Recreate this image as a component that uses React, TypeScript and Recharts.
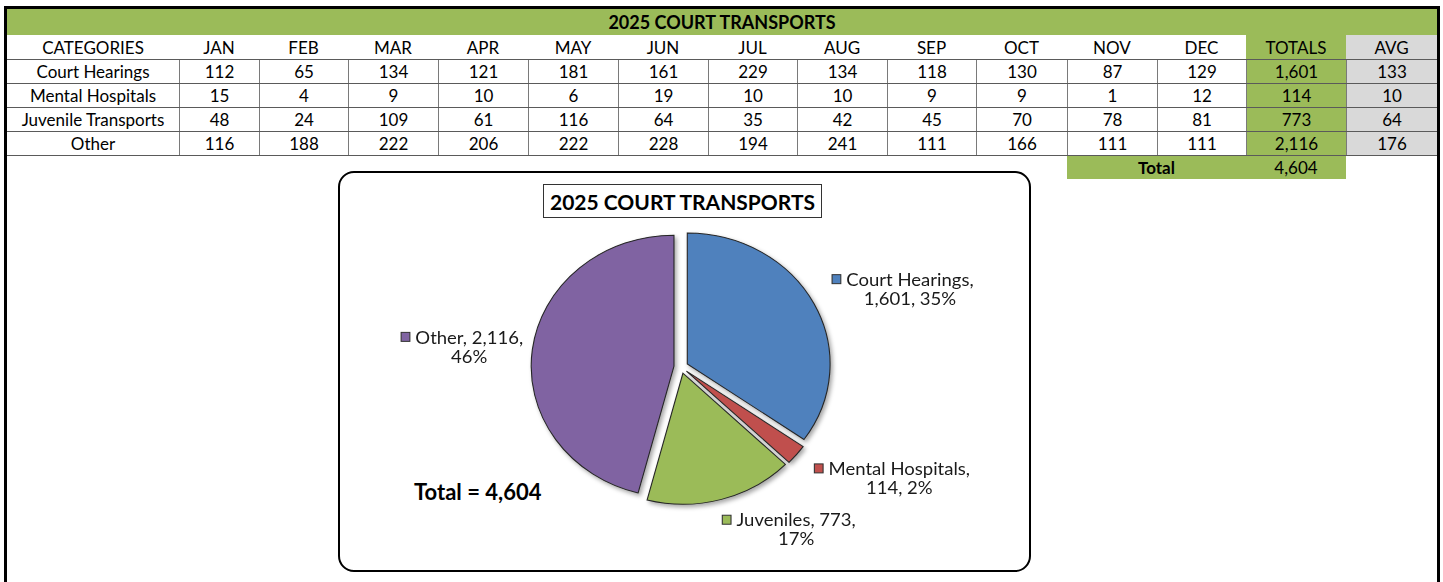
import React from 'react';
import { PieChart, Pie, Sector, Cell, Tooltip } from 'recharts';

// table data, read from the sheet
const months = ['JAN', 'FEB', 'MAR', 'APR', 'MAY', 'JUN', 'JUL', 'AUG', 'SEP', 'OCT', 'NOV', 'DEC'];
const categories = ['Court Hearings', 'Mental Hospitals', 'Juvenile Transports', 'Other'];
const courtHearings = [112, 65, 134, 121, 181, 161, 229, 134, 118, 130, 87, 129];
const mentalHospitals = [15, 4, 9, 10, 6, 19, 10, 10, 9, 9, 1, 12];
const juvenileTransports = [48, 24, 109, 61, 116, 64, 35, 42, 45, 70, 78, 81];
const other = [116, 188, 222, 206, 222, 228, 194, 241, 111, 166, 111, 111];
const totals = [1601, 114, 773, 2116];
const averages = [133, 10, 64, 176];
const grandTotal = 4604;

// pie slice names as shown in the chart labels
const pieNames = ['Court Hearings', 'Mental Hospitals', 'Juveniles', 'Other'];

const monthRows = [courtHearings, mentalHospitals, juvenileTransports, other];
const pieData = pieNames.map((name, i) => ({ name, value: totals[i] }));

const GREEN = '#9BBB59';
const GREY = '#D9D9D9';
const SLICE_COLORS = ['#4F81BD', '#C0504D', '#9BBB59', '#8064A2'];
const FONT = 'Lato, "Open Sans", sans-serif';

// column widths of the sheet (categories, 12 months, totals, avg)
const colWidths = [172, 80, 89, 90, 90, 90, 90, 89, 90, 89, 91, 90, 89, 100, 91];

const RAD = Math.PI / 180;
const EXPLODE = 6.5;
const LABEL_GAP = 24;
const LABEL_FONT = 17;
const LABEL_NUDGE: [number, number][] = [[1, -7], [3, 12], [-4, 13], [9, -1]];
const STRETCH = 1.09;

const fmt = (n: number) => n.toLocaleString('en-US');

let ctx: CanvasRenderingContext2D | null = null;
function textWidth(s: string) {
  if (!ctx) ctx = document.createElement('canvas').getContext('2d');
  if (!ctx) return s.length * 8;
  ctx.font = `${LABEL_FONT}px ${FONT}`;
  return ctx.measureText(s).width;
}

// greedy wrap over label parts (name, value, percent), excel-ish
function wrap(parts: string[], max: number) {
  const lines: string[] = [];
  let cur = '';
  parts.forEach((w) => {
    if (cur && (cur + ' ' + w).length > max) {
      lines.push(cur);
      cur = w;
    } else {
      cur = cur ? cur + ' ' + w : w;
    }
  });
  if (cur) lines.push(cur);
  return lines;
}

function ExplodedSector(props: any) {
  const { cx, cy, midAngle } = props;
  const dx = EXPLODE * Math.cos(-midAngle * RAD);
  const dy = EXPLODE * Math.sin(-midAngle * RAD);
  return <Sector {...props} cx={cx + dx} cy={cy + dy} filter="url(#sliceShadow)" />;
}

function renderLabel(p: any) {
  const i = p.index;
  const cos = Math.cos(-p.midAngle * RAD);
  const sin = Math.sin(-p.midAngle * RAD);
  const r = p.outerRadius + LABEL_GAP;
  const ax = p.cx + r * cos + LABEL_NUDGE[i][0];
  const ay = p.cy + r * sin + LABEL_NUDGE[i][1];
  const lines = wrap([`${pieNames[i]},`, `${fmt(p.value)},`, `${Math.round(p.percent * 100)}%`], 16);
  const w1 = textWidth(lines[0]);
  const sq = 8;
  const gap = 5;
  const blockW = sq + gap + w1;
  const left = cos >= 0 ? ax : ax - blockW;
  const tc = left + sq + gap + w1 / 2;
  const lh = 19;
  const top = ay - (lines.length * lh) / 2;
  return (
    <g key={`lbl-${i}`}>
      <rect x={left} y={top + lh / 2 - 4.5} width={sq} height={9} fill={SLICE_COLORS[i]} stroke="#333" strokeWidth={1} />
      {lines.map((ln, k) => (
        <text
          key={k}
          x={tc}
          y={top + lh * k + lh / 2}
          textAnchor="middle"
          dominantBaseline="central"
          fontFamily={FONT}
          fontSize={LABEL_FONT}
          fill="#1a1a1a"
        >
          {ln}
        </text>
      ))}
    </g>
  );
}

const cellBase: React.CSSProperties = {
  boxSizing: 'border-box',
  height: '100%',
  display: 'flex',
  alignItems: 'center',
  justifyContent: 'center',
  whiteSpace: 'nowrap',
};

function bgFor(col: number) {
  if (col === 13) return GREEN;
  if (col === 14) return GREY;
  return 'transparent';
}

export default function App() {
  const header = ['CATEGORIES', ...months, 'TOTALS', 'AVG'];
  return (
    <div
      style={{
        position: 'absolute',
        left: 0,
        top: 0,
        width: 1443,
        height: 582,
        background: '#fff',
        overflow: 'hidden',
        fontFamily: FONT,
        color: '#000',
      }}
    >
      <svg width={0} height={0} style={{ position: 'absolute' }}>
        <defs>
          <filter id="sliceShadow" x="-20%" y="-20%" width="140%" height="140%">
            <feDropShadow dx="2" dy="2.5" stdDeviation="2" floodColor="#000" floodOpacity="0.35" />
          </filter>
        </defs>
      </svg>

      {/* outer frame */}
      <div style={{ position: 'absolute', left: 4, top: 6, width: 1436, height: 640, border: '3px solid #000', boxSizing: 'border-box' }} />

      {/* title bar */}
      <div
        style={{
          position: 'absolute', left: 7, top: 9, width: 1430, height: 26, background: GREEN,
          display: 'flex', alignItems: 'center', justifyContent: 'center', fontWeight: 700, fontSize: 18,
        }}
      >
        2025 COURT TRANSPORTS
      </div>

      {/* header row */}
      <div style={{ position: 'absolute', left: 7, top: 35, height: 24, display: 'flex', fontSize: 17 }}>
        {header.map((h, c) => (
          <div key={h} style={{ ...cellBase, width: colWidths[c], background: bgFor(c) }}>{h}</div>
        ))}
      </div>

      {/* data rows */}
      {categories.map((cat, r) => {
        const cells = [cat, ...monthRows[r].map(fmt), fmt(totals[r]), fmt(averages[r])];
        return (
          <div
            key={cat}
            style={{
              position: 'absolute', left: 7, top: 59 + r * 24, height: 24, display: 'flex', fontSize: 17,
              borderTop: '1px solid #5a5a5a', boxSizing: 'border-box',
            }}
          >
            {cells.map((v, c) => (
              <div
                key={c}
                style={{
                  ...cellBase, width: colWidths[c], background: bgFor(c),
                  borderLeft: c > 0 ? '1px solid #7a7a7a' : 'none',
                }}
              >
                {v}
              </div>
            ))}
          </div>
        );
      })}
      <div style={{ position: 'absolute', left: 7, top: 155, width: 1430, height: 1, background: '#5a5a5a' }} />

      {/* grand total row */}
      <div style={{ position: 'absolute', left: 1067, top: 156, height: 23, display: 'flex', background: GREEN, fontSize: 17 }}>
        <div style={{ ...cellBase, width: 179, fontWeight: 700 }}>Total</div>
        <div style={{ ...cellBase, width: 100 }}>{fmt(grandTotal)}</div>
      </div>

      {/* chart box */}
      <div
        style={{
          position: 'absolute', left: 338, top: 171, width: 693, height: 401,
          border: '2px solid #000', borderRadius: 16, boxSizing: 'border-box', background: '#fff',
        }}
      />
      <div
        style={{
          position: 'absolute', left: 543, top: 184, width: 279, height: 34, border: '1.5px solid #333',
          boxSizing: 'border-box', display: 'flex', alignItems: 'center', justifyContent: 'center',
          fontWeight: 700, fontSize: 21, background: '#fff',
        }}
      >
        2025 COURT TRANSPORTS
      </div>
      <div style={{ position: 'absolute', left: 414, top: 479, fontWeight: 700, fontSize: 22, lineHeight: '26px' }}>
        Total = {fmt(grandTotal)}
      </div>

      <div
        style={{
          position: 'absolute', left: 338, top: 171, width: 693, height: 400,
          transform: `scaleX(${STRETCH})`, transformOrigin: '343px 196px',
        }}
      >
        <PieChart width={693} height={400} margin={{ top: 0, right: 0, bottom: 0, left: 0 }}>
          <Pie
            data={pieData}
            dataKey="value"
            nameKey="name"
            cx={343}
            cy={196}
            outerRadius={131}
            startAngle={90}
            endAngle={-270}
            stroke="#262626"
            strokeWidth={1}
            shape={ExplodedSector}
            activeShape={ExplodedSector}
            inactiveShape={ExplodedSector}
            label={renderLabel}
            labelLine={false}
            isAnimationActive={false}
          >
            {pieData.map((d, i) => (
              <Cell key={d.name} fill={SLICE_COLORS[i]} />
            ))}
          </Pie>
          <Tooltip defaultIndex={0} content={() => null} />
        </PieChart>
      </div>
    </div>
  );
}
